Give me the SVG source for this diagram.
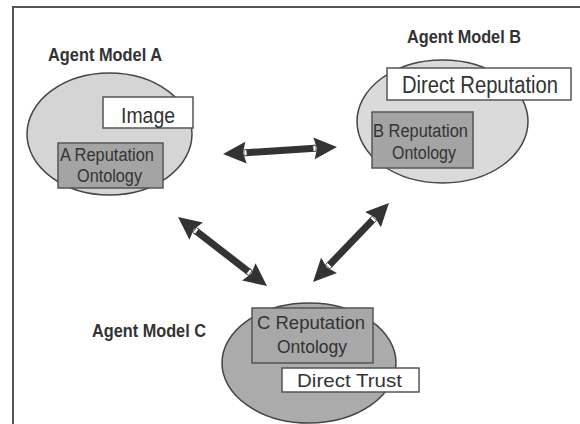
<svg xmlns="http://www.w3.org/2000/svg" width="580" height="424" viewBox="0 0 580 424">
<style>
.lbl{font-family:"Liberation Sans",Arial,sans-serif;font-weight:bold;font-size:18.5px;fill:#333}
.t{font-family:"Liberation Sans",Arial,sans-serif;fill:#333}
.ell{stroke:#444;stroke-width:1.5}
.box{stroke:#555;stroke-width:1.5}
.wbox{fill:#fff;stroke:#555;stroke-width:1.5}
.conn{stroke:#333;stroke-width:7;fill:none;marker-start:url(#ah);marker-end:url(#ah)}
</style>
<defs>
<marker id="ah" markerUnits="userSpaceOnUse" markerWidth="26" markerHeight="24" viewBox="-3 0 26 24" refX="0" refY="12" orient="auto-start-reverse">
<path d="M-1,1 L22,12 L-1,23 L2,12 z" fill="#333"/>
<rect x="-2" y="9" width="3" height="6" fill="#fff" stroke="#333" stroke-width="0.8"/>
</marker>
</defs>
<rect x="13" y="7" width="620" height="460" fill="none" stroke="#555" stroke-width="2"/>
<g id="connectors">
<line class="conn" x1="245" y1="152.7" x2="315" y2="148.3"/>
<line class="conn" x1="195.4" y1="230.5" x2="249.6" y2="272.5"/>
<line class="conn" x1="328.3" y1="266.1" x2="373.7" y2="218.9"/>
</g>
<g id="agentA">
<text class="lbl" x="48" y="61" textLength="114" lengthAdjust="spacingAndGlyphs">Agent Model A</text>
<ellipse class="ell" cx="109.5" cy="134" rx="82.5" ry="61" fill="#d5d5d5"/>
<rect class="wbox" x="103" y="97" width="90" height="31"/>
<text class="t" x="121" y="123" font-size="22" textLength="54" lengthAdjust="spacingAndGlyphs">Image</text>
<rect class="box" x="58" y="143" width="105" height="45" fill="#a4a4a4"/>
<text class="t" x="60" y="161" font-size="18" textLength="94" lengthAdjust="spacingAndGlyphs">A Reputation</text>
<text class="t" x="77" y="182" font-size="18" textLength="65" lengthAdjust="spacingAndGlyphs">Ontology</text>
</g>
<g id="agentB">
<text class="lbl" x="407" y="43" textLength="114" lengthAdjust="spacingAndGlyphs">Agent Model B</text>
<ellipse class="ell" cx="442.5" cy="121.5" rx="85.5" ry="61.5" fill="#dadada"/>
<rect class="wbox" x="387" y="68" width="184" height="32"/>
<text class="t" x="402" y="93" font-size="23" textLength="156" lengthAdjust="spacingAndGlyphs">Direct Reputation</text>
<rect class="box" x="372" y="112" width="101" height="56" fill="#a4a4a4"/>
<text class="t" x="373" y="137" font-size="18" textLength="95" lengthAdjust="spacingAndGlyphs">B Reputation</text>
<text class="t" x="392" y="159" font-size="18" textLength="64" lengthAdjust="spacingAndGlyphs">Ontology</text>
</g>
<g id="agentC">
<text class="lbl" x="92" y="337" textLength="114" lengthAdjust="spacingAndGlyphs">Agent Model C</text>
<ellipse class="ell" cx="309" cy="363" rx="87" ry="60" fill="#ababab"/>
<rect class="box" x="252" y="308" width="121" height="55" fill="#a8a8a8"/>
<text class="t" x="257" y="329" font-size="19" textLength="108" lengthAdjust="spacingAndGlyphs">C Reputation</text>
<text class="t" x="277" y="353" font-size="19" textLength="70" lengthAdjust="spacingAndGlyphs">Ontology</text>
<rect class="wbox" x="282" y="368" width="137" height="24"/>
<text class="t" x="297" y="387" font-size="19" textLength="105" lengthAdjust="spacingAndGlyphs">Direct Trust</text>
</g>
</svg>
